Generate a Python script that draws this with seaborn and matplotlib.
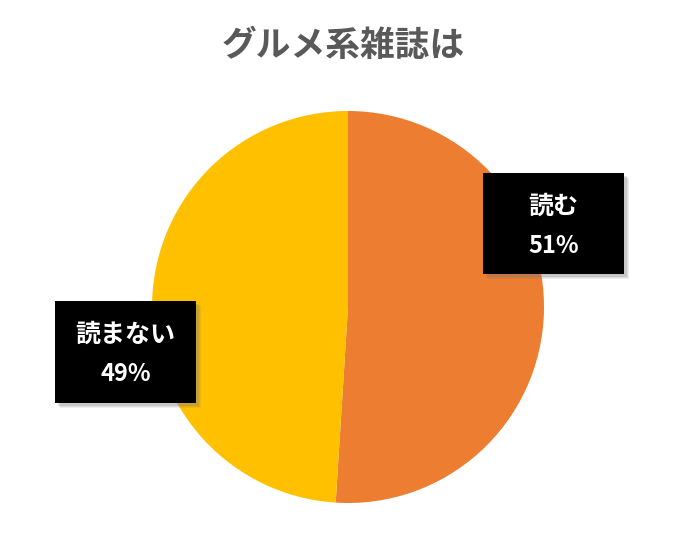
import matplotlib
matplotlib.use("Agg")
import matplotlib.pyplot as plt
import seaborn as sns
from matplotlib.patches import Rectangle

sns.set_theme(style="white")
plt.rcParams['font.family'] = ['Noto Sans CJK JP', 'DejaVu Sans']

title = "グルメ系雑誌は"
labels = ["読む", "読まない"]
shares = [51, 49]
colors = ["#ED7D31", "#FFC000"]

W, H = 683, 543
fig = plt.figure(figsize=(W / 100, H / 100), dpi=100)
ax = fig.add_axes([0, 0, 1, 1])
ax.set_xlim(0, W)
ax.set_ylim(0, H)
ax.set_aspect("equal")
ax.axis("off")

ax.pie(shares, colors=colors, startangle=90, counterclock=False,
       center=(348, H - 307), radius=196,
       wedgeprops={"linewidth": 0})
ax.set_xlim(0, W)
ax.set_ylim(0, H)

# label boxes (left, top, width, height) in pixels
boxes = [(483, 173, 141, 101), (55, 301, 141, 102)]
for (x0, y0, bw, bh), lab, val in zip(boxes, labels, shares):
    # soft shadow
    for k, a in [(5, 0.12), (4, 0.15), (3, 0.2)]:
        ax.add_patch(Rectangle((x0 + k, H - y0 - bh - k), bw, bh,
                               facecolor="#777777", alpha=a, lw=0, zorder=4))
    ax.add_patch(Rectangle((x0, H - y0 - bh), bw, bh,
                           facecolor="black", lw=0, zorder=5))
    cx = x0 + bw / 2
    ax.text(cx, H - (y0 + bh * 0.33), lab, color="white", fontsize=18,
            fontweight="bold", ha="center", va="center", zorder=6)
    ax.text(cx, H - (y0 + bh * 0.72), f"{val}%", color="white", fontsize=17,
            fontweight="bold", ha="center", va="center", zorder=6)

ax.text(343, H - 45, title, color="#595959", fontsize=25, fontweight="bold",
        ha="center", va="center")

fig.savefig("out.png", dpi=100)
